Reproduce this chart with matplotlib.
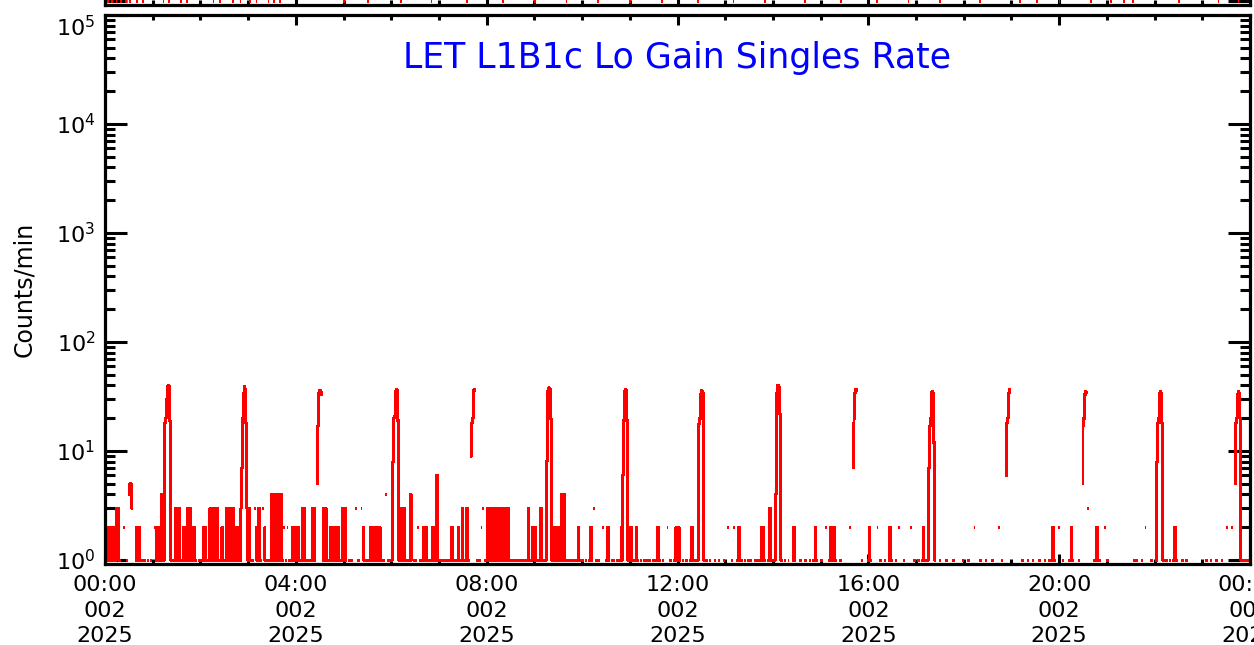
import numpy as np
import matplotlib
matplotlib.use("Agg")
import matplotlib.pyplot as plt
from matplotlib.ticker import FixedLocator, LogLocator, NullFormatter

# counts per minute for day 002 of 2025, one string per hour (0 = no counts)
hour_codes = [
    "1211112111 2111133110 0002000100 4553000011 2112111001 1001100110",
    "0020121121 1413111111 1111111113 1113110112 1111313111 2121100111",
    "1102121111 1131131111 3111111211 1113113113 1311211211 1111111131",
    "1311111030 1213111030 2111101114 1411114114 1411020102 0111112121",
    "1212111131 3110011011 1313100000 0000131311 1112121121 2112110113",
    "1311001001 1000030011 0030211011 1111211211 2111121101 1004011011",
    "1111111111 1113113110 1111413011 0102011011 1212110110 1121111611",
    "1101101101 1011112111 0111211113 1111131110 0000000110 1102030110",
    "1313113131 1311313113 1311213111 0111101111 1101111010 1131101202",
    "1211111131 1111111111 1111211212 1211411411 1101111011 1101121111",
    "1100110011 1210300101 1100002001 1121100101 1001101112 1111111111",
    "1210011121 1001100100 1100110010 1101121110 0110000200 1100011121",
    "1211001100 1100011121 1110111111 1111100100 1000000100 0010000010",
    "0002000010 0200111211 1100110011 0010000110 1111121211 1001113111",
    "1111111111 1100110001 0000112110 0000110000 1100001000 1112110000",
    "1100002000 1121212111 0000110000 0000002000 0000000000 0110000001",
    "1211000000 0200110000 1100011211 0000110020 0000110000 0002000110",
    "0011000112 1101111111 1111100001 1000000110 0000001100 0000000011",
    "0000011000 0002000000 1100000110 0000011000 0000200110 0000000000",
    "0000000000 0001100000 1100001100 0000110000 0110000110 1121100002",
    "0000110000 0011121100 0000110000 0000003000 0001111211 1100000200",
    "1100000000 0000000000 0000000000 0000110110 0001100020 0000011000",
    "0111111111 1100110001 0001121110 0000110001 1000000000 0000000000",
    "0000110000 1100000110 0000110000 0200000200 0000000111 1111111111",
]

# the periodic bursts: start minute and counts/min in the following minutes
peak_start = [75, 171, 266, 362, 460, 555, 651, 746, 843, 940, 1036, 1133, 1229, 1323, 1421]
peak_vals = [
    [18, 20, 30, 38, 40, 39, 19],
    [3, 7, 20, 34, 39, 37, 18],
    [5, 17, 20, 34, 36, 35, 33],
    [8, 20, 21, 35, 37, 36, 19],
    [9, 18, 20, 35, 37, 36],
    [8, 19, 36, 38, 37, 20, 18],
    [6, 19, 35, 37, 36, 19],
    [5, 18, 20, 33, 36, 35, 34],
    [4, 20, 34, 40, 39, 22, 20],
    [7, 18, 20, 34, 37, 36],
    [7, 17, 20, 33, 35, 34, 12],
    [6, 18, 20, 34, 37, 36],
    [5, 17, 20, 33, 35, 34],
    [8, 18, 20, 34, 35, 34, 18],
    [5, 18, 20, 33, 35, 34, 20],
]

# minutes with a single count in the panel above (only its bottom edge shows)
upper_minutes = [3, 8, 14, 20, 26, 31, 40, 47, 73, 80, 95, 103, 136, 144, 160, 170,
                 182, 190, 205, 212, 220, 300, 330, 372, 410, 455, 500, 540, 580, 620,
                 660, 700, 745, 790, 830, 880, 925, 970, 1010, 1050, 1100, 1150, 1172,
                 1200, 1240, 1265, 1281, 1292, 1350, 1400, 1425]

tick_minutes = [0, 240, 480, 720, 960, 1200, 1440]
tick_labels = ["00:00\n002\n2025", "04:00\n002\n2025", "08:00\n002\n2025",
               "12:00\n002\n2025", "16:00\n002\n2025", "20:00\n002\n2025",
               "00:00\n003\n2025"]
title = "LET L1B1c Lo Gain Singles Rate"

codes = "".join(h.replace(" ", "") for h in hour_codes)
counts = np.array([int(c) for c in codes], dtype=float)
for s, v in zip(peak_start, peak_vals):
    counts[s:s + len(v)] = v


def step_xy(vals):
    # histogram style: one flat segment per minute, gaps where zero
    v = np.where(vals > 0, vals, np.nan)
    edges = np.arange(len(v) + 1)
    xs = np.repeat(edges, 2)[1:-1]
    ys = np.repeat(v, 2)
    return xs, ys


W, H = 1254, 645
fig = plt.figure(figsize=(W / 100, H / 100), dpi=100)
plt.rcParams['font.family'] = ['DejaVu Sans']

left, right, top, bottom = 105, 1250, 15, 564
pos = [left / W, 1 - bottom / H, (right - left) / W, (bottom - top) / H]
ax = fig.add_axes(pos)

upper = np.zeros(1440)
upper[upper_minutes] = 1
ax2 = fig.add_axes([pos[0], 1 - 5 / H, pos[2], pos[3]])

for a, vals in ((ax, counts), (ax2, upper)):
    xs, ys = step_xy(vals)
    a.plot(xs, ys, color="red", lw=1.4, solid_capstyle="butt", antialiased=False)
    a.set_yscale("log")
    a.set_ylim(0.92, 1e5)
    a.set_xlim(0, 1440)
    for sp in a.spines.values():
        sp.set_linewidth(2.3)
    a.xaxis.set_major_locator(FixedLocator(tick_minutes))
    a.xaxis.set_minor_locator(FixedLocator(np.arange(0, 1441, 60)))
    a.yaxis.set_major_locator(LogLocator(base=10, numticks=10))
    a.yaxis.set_minor_locator(LogLocator(base=10, subs=np.arange(2, 10), numticks=10))
    a.yaxis.set_minor_formatter(NullFormatter())
    a.tick_params(axis="both", which="both", direction="in", top=True, right=True,
                  width=2.2, labelsize=16, colors="black")
    a.tick_params(axis="y", which="major", length=16, pad=7)
    a.tick_params(axis="y", which="minor", length=7)
    a.tick_params(axis="x", which="major", length=7, pad=8)
    a.tick_params(axis="x", which="minor", length=3.6)
    a.set_yticks([1, 10, 100, 1000, 1e4, 1e5])

ax2.set_xticklabels([])
ax2.set_yticklabels(["10$^{%d}$" % k for k in range(6)], va="bottom")
ylabs = ax.set_yticklabels(["10$^{%d}$" % k for k in range(6)])
ylabs[-1].set_verticalalignment("top")
ax.set_xticklabels(tick_labels, linespacing=1.35)
ax.set_ylabel("Counts/min", fontsize=17, labelpad=14)
ax.text(0.5, 0.922, title, transform=ax.transAxes, ha="center", va="center",
        color="blue", fontsize=25)

fig.savefig("out.png", dpi=100)
